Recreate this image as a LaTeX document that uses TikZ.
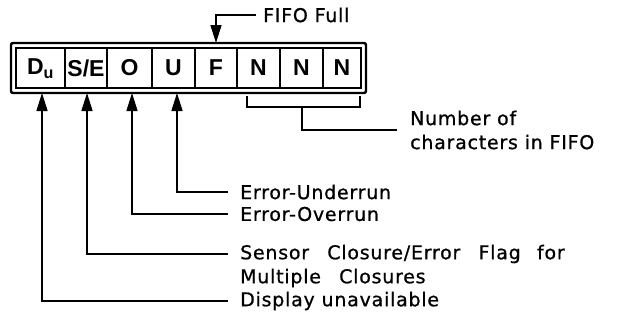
\documentclass[tikz,border=0pt]{standalone}
\usepackage{fontspec}
\setmainfont{DejaVu Sans}[LetterSpace=4,FakeBold=0.8]
\newfontfamily\cellfont{Liberation Sans}
\usetikzlibrary{arrows.meta,calc}
\begin{document}
\begin{tikzpicture}[x=1pt,y=-1pt,
  lbl/.style={anchor=west,inner xsep=12pt,inner ysep=0pt,font=\fontsize{19}{21}\selectfont},
  cell/.style={font=\cellfont\bfseries\fontsize{23}{26}\selectfont,inner sep=0pt},
  conn/.style={line width=1.6pt},
  arr/.style={conn,-{Triangle[length=18pt,width=11pt]}},
  frame/.style={line width=2.4pt,rounded corners=2pt},
  cellline/.style={line width=1.8pt}
]
\useasboundingbox (0,0) rectangle (622,322);
% register
\draw[frame] (11,43) rectangle (366,93);
\draw[cellline] (16,48) rectangle (361,88);
\foreach \x in {65,107,152,195,237,280,323} \draw[cellline] (\x,48) -- (\x,88);
\node[cell] (cD) at (40.5,69) {D\textsubscript{u}};
\node[cell] (cS) at (86,68) {S/E};
\node[cell] (cO) at (129.5,68) {O};
\node[cell] (cU) at (173.5,68) {U};
\node[cell] (cF) at (216,68) {F};
\node[cell] (cN1) at (258.5,68) {N};
\node[cell] (cN2) at (301.5,68) {N};
\node[cell] (cN3) at (342,68) {N};
% arrow tips on the frame
\coordinate (tD) at (42,93);
\coordinate (tS) at (87,93);
\coordinate (tO) at (132,93);
\coordinate (tU) at (177,93);
\coordinate (tF) at (216,43);
% labels
\node[lbl,inner xsep=7pt] (lF) at (256,15) {FIFO Full};
\node[lbl,inner xsep=0pt] (lN1) at (410,118) {Number of};
\node[lbl,inner xsep=0pt] (lN2) at (410,142) {characters in FIFO};
\node[lbl] (lU) at (228,192) {Error-Underrun};
\node[lbl] (lO) at (228,214) {Error-Overrun};
\node[lbl] (lS) at (228,254) {Sensor\hspace{0.6em} Closure/Error\hspace{0.6em} Flag\hspace{0.5em} for};
\node[lbl] (lS2) at (228,278) {Multiple\hspace{0.6em} Closures};
\node[lbl] (lD) at (228,301) {Display unavailable};
% connectors
\draw[arr] (lF.west) -| (tF);
\draw[arr] (lU.west) -| (tU);
\draw[arr] (lO.west) -| (tO);
\draw[arr] (lS.west) -| (tS);
\draw[arr] (lD.west) -| (tD);
% bracket
\coordinate (b1) at (247,96);
\coordinate (b2) at (360,96);
\coordinate (bm) at (302,107);
\coordinate (nEnd) at (397,130);
\draw[conn] (b1) |- (b2 |- bm) -- (b2);
\draw[conn] (bm) |- (nEnd);
\end{tikzpicture}
\end{document}
